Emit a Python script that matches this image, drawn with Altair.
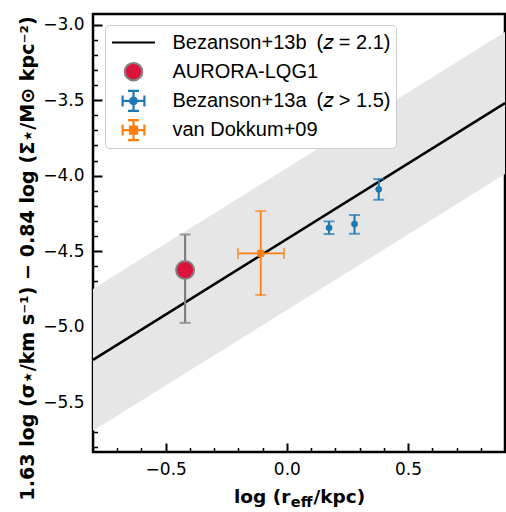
import altair as alt
import pandas as pd

# ---------------- data ----------------
x_domain = [-0.8, 0.9]
y_domain = [-5.83, -2.93]

# Bezanson+13b relation and its scatter band
rel_x = [-0.8, 0.9]
rel_y = [-5.22, -3.52]
rel_lo = [-5.69, -3.99]
rel_hi = [-4.75, -3.05]

# AURORA-LQG1
aur_x = [-0.42]
aur_y = [-4.625]
aur_ylo = [-4.975]
aur_yhi = [-4.39]

# Bezanson+13a (z > 1.5)
bez_x = [0.174, 0.279, 0.379]
bez_y = [-4.346, -4.321, -4.091]
bez_ylo = [-4.387, -4.385, -4.160]
bez_yhi = [-4.303, -4.260, -4.023]

# van Dokkum+09
vd_x = [-0.108]
vd_y = [-4.515]
vd_xlo = [-0.202]
vd_xhi = [-0.012]
vd_ylo = [-4.790]
vd_yhi = [-4.235]

legend_labels = ["Bezanson+13b\u2002(𝑧 = 2.1)", "AURORA-LQG1",
                 "Bezanson+13a\u2002(𝑧 > 1.5)", "van Dokkum+09"]

x_major = [-0.5, 0.0, 0.5]
y_major = [-5.5, -5.0, -4.5, -4.0, -3.5, -3.0]
x_minor = [round(-0.8 + 0.1 * i, 1) for i in range(18)]
y_minor = [round(-5.8 + 0.1 * i, 1) for i in range(29)]

x_title_parts = ["log (r", "eff", "/kpc)"]
y_title = "1.63 log (σ⋆/km s⁻¹) − 0.84 log (Σ⋆/M⊙ kpc⁻²)"

# ---------------- styling ----------------
W, H = 412, 438
FONT = "DejaVu Sans"
LFONT = "Liberation Sans"
BLUE, ORANGE, GREY, RED = "#1f77b4", "#ff7f0e", "#808080", "#dc143c"

xs = alt.Scale(domain=x_domain, nice=False, zero=False)
ys = alt.Scale(domain=y_domain, nice=False, zero=False)

x_main = alt.Axis(orient="bottom", values=x_major, format=".1f", ticks=False, tickSize=0,
                  domain=False, grid=False, labelFont=FONT, labelFontSize=17, labelPadding=9,
                  labelColor="black", labelFlush=False, title=None)
y_main = alt.Axis(orient="left", values=y_major, format=".1f", ticks=False, tickSize=0,
                  domain=False, grid=False, labelFont=FONT, labelFontSize=17, labelPadding=9,
                  labelColor="black", labelFlush=False, title=y_title, titleFont=FONT,
                  titleFontWeight="bold", titleFontSize=19.1, titleAngle=270, titleX=-66,
                  titleY=244, titleAlign="center", titleBaseline="middle", titleColor="black")

major_test = "abs(datum.value*2 - round(datum.value*2)) < 0.001"
tick_size = {"condition": {"test": major_test, "value": 9}, "value": 4.5}
tick_width = {"condition": {"test": major_test, "value": 2}, "value": 1.5}

x_ticks = alt.Axis(orient="top", offset=-H, values=x_minor, labels=False, domain=False,
                   grid=False, title=None, tickColor="black", tickSize=tick_size,
                   tickWidth=tick_width)
y_ticks = alt.Axis(orient="right", offset=-W, values=y_minor, labels=False, domain=False,
                   grid=False, title=None, tickColor="black", tickSize=tick_size,
                   tickWidth=tick_width)

# ---------------- tables ----------------
rel_df = pd.DataFrame({"x": rel_x, "y": rel_y, "lo": rel_lo, "hi": rel_hi})
aur_df = pd.DataFrame({"x": aur_x, "y": aur_y, "lo": aur_ylo, "hi": aur_yhi})
bez_df = pd.DataFrame({"x": bez_x, "y": bez_y, "lo": bez_ylo, "hi": bez_yhi})
vd_df = pd.DataFrame({"x": vd_x, "y": vd_y, "xlo": vd_xlo, "xhi": vd_xhi,
                      "lo": vd_ylo, "hi": vd_yhi})
leg_df = pd.DataFrame({"series": legend_labels})


def X(f, axis=None):
    return alt.X(f, scale=xs, axis=axis)


def Y(f, axis=None):
    return alt.Y(f, scale=ys, axis=axis)


band = alt.Chart(rel_df).mark_area(color="#e6e6e6", opacity=1).encode(
    x=X("x:Q", x_main), y=Y("lo:Q", y_main), y2="hi:Q")

line = alt.Chart(rel_df).mark_line(color="black", strokeWidth=2.5).encode(
    x=X("x:Q", x_ticks), y=Y("y:Q", y_ticks))


def vbar(df, color, width=2):
    r = alt.Chart(df).mark_rule(color=color, strokeWidth=width).encode(
        x=X("x:Q"), y=Y("lo:Q"), y2="hi:Q")
    c1 = alt.Chart(df).mark_tick(color=color, orient="horizontal", size=11, thickness=width).encode(
        x=X("x:Q"), y=Y("lo:Q"))
    c2 = alt.Chart(df).mark_tick(color=color, orient="horizontal", size=11, thickness=width).encode(
        x=X("x:Q"), y=Y("hi:Q"))
    return [r, c1, c2]


aur_bars = vbar(aur_df, GREY, 2.2)
aur_pt = alt.Chart(aur_df).mark_point(shape="circle", filled=True, fill=RED, stroke=GREY,
                                      strokeWidth=2, size=324, opacity=1).encode(
    x=X("x:Q"), y=Y("y:Q"))

bez_bars = vbar(bez_df, BLUE, 2)
bez_pt = alt.Chart(bez_df).mark_point(shape="circle", filled=True, color=BLUE, size=44,
                                      opacity=1).encode(x=X("x:Q"), y=Y("y:Q"))

vd_bars = vbar(vd_df, ORANGE, 1.8)
vd_h = alt.Chart(vd_df).mark_rule(color=ORANGE, strokeWidth=1.8).encode(
    x=X("xlo:Q"), x2="xhi:Q", y=Y("y:Q"))
vd_c1 = alt.Chart(vd_df).mark_tick(color=ORANGE, orient="vertical", size=11, thickness=1.8).encode(
    x=X("xlo:Q"), y=Y("y:Q"))
vd_c2 = alt.Chart(vd_df).mark_tick(color=ORANGE, orient="vertical", size=11, thickness=1.8).encode(
    x=X("xhi:Q"), y=Y("y:Q"))
vd_pt = alt.Chart(vd_df).mark_point(shape="square", filled=True, color=ORANGE, size=49,
                                    opacity=1).encode(x=X("x:Q"), y=Y("y:Q"))

# ---------------- legend ----------------
cross = ("M-0.99,0H0.99M0,-0.91V0.91M-0.99,-0.5V0.5M0.99,-0.5V0.5"
         "M-0.5,-0.91H0.5M-0.5,0.91H0.5")
legend_paths = [
    "M-1.95,0H1.95",
    "M-0.79,0A0.79,0.79,0,1,1,0.79,0A0.79,0.79,0,1,1,-0.79,0Z",
    cross + "M-0.3,0A0.3,0.3,0,1,1,0.3,0A0.3,0.3,0,1,1,-0.3,0Z",
    cross + "M-0.32,-0.32H0.32V0.32H-0.32Z",
]
legend_fill = ["black", RED, BLUE, ORANGE]
legend_stroke = ["black", GREY, BLUE, ORANGE]

leg = alt.Legend(title=None, orient="none", legendX=12, legendY=11, padding=5.5,
                 fillColor="white", strokeColor="#cccccc", cornerRadius=4,
                 symbolSize=484, symbolStrokeWidth=2.2, symbolOffset=10.5, symbolOpacity=1,
                 labelOffset=26.5, rowPadding=5.2, clipHeight=24, labelFont=LFONT,
                 labelFontSize=20, labelLimit=400, labelColor="black")

legend_layer = alt.Chart(leg_df).mark_point(filled=True, opacity=0, strokeWidth=2.2).encode(
    fill=alt.Fill("series:N", scale=alt.Scale(domain=legend_labels, range=legend_fill), legend=leg),
    stroke=alt.Stroke("series:N", scale=alt.Scale(domain=legend_labels, range=legend_stroke), legend=leg),
    shape=alt.Shape("series:N", scale=alt.Scale(domain=legend_labels, range=legend_paths), legend=leg),
)

# ---------------- x title (with subscript) ----------------
t1 = alt.Chart(pd.DataFrame({"t": [x_title_parts[0]]})).mark_text(
    font=FONT, fontWeight="bold", fontSize=18.5, align="right", baseline="alphabetic",
    color="black").encode(text="t:N", x=alt.value(197.3), y=alt.value(489))
t2 = alt.Chart(pd.DataFrame({"t": [x_title_parts[1]]})).mark_text(
    font=FONT, fontWeight="bold", fontSize=14.5, align="left", baseline="alphabetic",
    color="black").encode(text="t:N", x=alt.value(197.8), y=alt.value(493))
t3 = alt.Chart(pd.DataFrame({"t": [x_title_parts[2]]})).mark_text(
    font=FONT, fontWeight="bold", fontSize=18.5, align="left", baseline="alphabetic",
    color="black").encode(text="t:N", x=alt.value(220.5), y=alt.value(489))

chart = alt.layer(
    band, line, *aur_bars, aur_pt, *bez_bars, bez_pt, vd_h, vd_c1, vd_c2, *vd_bars, vd_pt,
    legend_layer, t1, t2, t3,
).resolve_axis(x="independent", y="independent").properties(
    width=W, height=H,
    autosize=alt.AutoSizeParams(type="none"),
    padding={"left": 93, "top": 14, "right": 1, "bottom": 60},
    background="white",
).configure_view(stroke="black", strokeWidth=2.5)

chart.save("out.html", embed_options={"renderer": "svg", "actions": False})
